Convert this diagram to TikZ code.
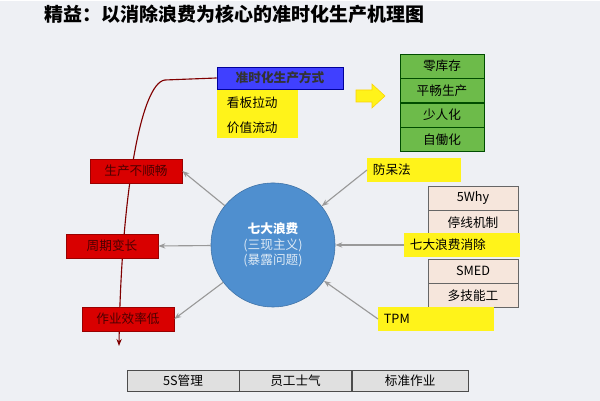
\documentclass[tikz,border=0pt]{standalone}
\usepackage{fontspec}
\setmainfont{Noto Sans CJK SC}
\usetikzlibrary{positioning,arrows.meta}
\definecolor{bgcol}{HTML}{EEF0F4}
\definecolor{circcol}{HTML}{4F8FCF}
\definecolor{greencol}{HTML}{6DBB4A}
\definecolor{palecol}{HTML}{F6E6DC}
\tikzset{
  redbox/.style={draw=red!60!black,fill=red!85!black,text=red!30!black,minimum width=2.3cm,minimum height=0.6cm,font=\small},
  yelbox/.style={fill=yellow!90!white,minimum height=0.58cm,anchor=west,font=\small,text width=2.05cm,inner xsep=4pt},
  greenbox/.style={draw=green!30!black,fill=greencol,minimum width=2.1cm,minimum height=0.6cm,font=\small},
  palebox/.style={draw=black!60,fill=palecol,minimum width=2.25cm,minimum height=0.6cm,font=\small},
  barcell/.style={draw=black!70,fill=black!12,minimum height=0.5cm,font=\small},
  garrow/.style={draw=black!40,-{Stealth[length=5pt]},thick}
}
\begin{document}
\begin{tikzpicture}[x=0.025cm,y=-0.025cm]
\fill[bgcol] (0,0) rectangle (600,400);
\node[anchor=west,font=\bfseries\fontsize{13.5}{16}\selectfont] (title) at (40,13) {精益：以消除浪费为核心的准时化生产机理图};
% left top
\node[draw=blue!60!black,fill=blue!75!white,minimum width=3.15cm,minimum height=0.55cm,font=\small\bfseries,text=black!80] (jit) at (280,77) {准时化生产方式};
\fill[yellow!90!white] (217,89) rectangle (298,137);
\node[anchor=west,font=\small] (kb) at (222,102) {看板拉动};
\node[anchor=west,font=\small] (vs) at (222,127) {价值流动};
\fill[yellow!90!white,draw=yellow!70!orange] (356,89) -- (372,89) -- (372,83) -- (385,95) -- (372,107) -- (372,101) -- (356,101) -- cycle;
% green stack
\node[greenbox] (g1) at (442,65) {零库存};
\node[greenbox,below=0pt of g1] (g2) {平畅生产};
\node[greenbox,below=0pt of g2] (g3) {少人化};
\node[greenbox,below=0pt of g3] (g4) {自働化};
% red curve
\coordinate (cend) at (119,345);
\draw[red!50!black,thick,-{Stealth[length=5pt]}] (jit.west) -- (165,79) .. controls (140,82) and (121,200) .. (cend);
% centre
\node[circle,draw=circcol!80!black,fill=circcol,minimum size=3.1cm,align=center,text=white,font=\small] (waste) at (273,244) {\textbf{七大浪费}\\{\color{white!80!circcol}(三现主义)}\\{\color{white!80!circcol}(暴露问题)}};
% red boxes
\node[redbox] (r1) at (136,170) {生产不顺畅};
\node[redbox] (r2) at (112,245) {周期变长};
\node[redbox] (r3) at (128,318) {作业效率低};
% right
\node[yelbox] (poka) at (367,169) {防呆法};
\node[palebox] (w5) at (473,197) {5Why};
\node[palebox,below=0pt of w5] (stop) {停线机制};
\node[yelbox,text width=2.6cm] (elim) at (404,244) {七大浪费消除};
\node[palebox] (smed) at (473,270) {SMED};
\node[palebox,below=0pt of smed] (multi) {多技能工};
\node[yelbox,text width=2.6cm] (tpm) at (378,318) {TPM};
% arrows
\draw[garrow] (waste) -- (r1.east);
\draw[garrow] (waste) -- (r2.east);
\draw[garrow] (waste) -- (r3.east);
\draw[garrow] (poka.west) -- (waste);
\draw[garrow] (elim.west) -- (waste);
\draw[garrow] (tpm.west) -- (waste);
% bottom bar
\node[barcell,minimum width=2.8cm] (b1) at (183,380) {5S管理};
\node[barcell,minimum width=2.8cm,right=0pt of b1] (b2) {员工士气};
\node[barcell,minimum width=2.9cm,right=0pt of b2] (b3) {标准作业};
\end{tikzpicture}
\end{document}
